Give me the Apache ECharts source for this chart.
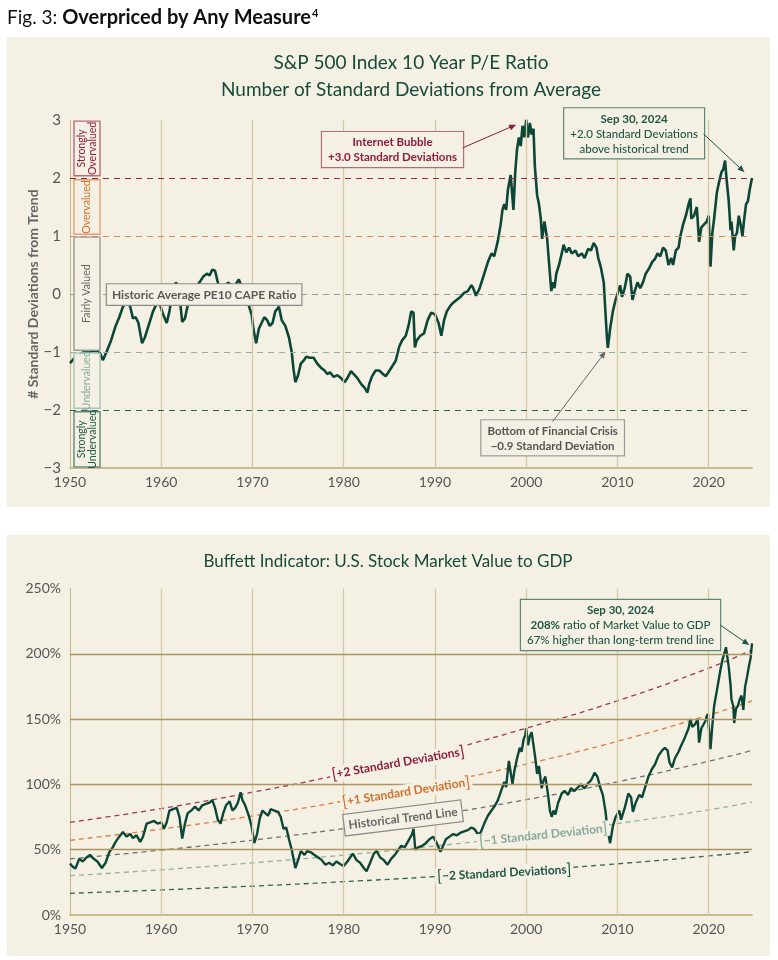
<!DOCTYPE html>
<html><head><meta charset="utf-8">
<script src="https://cdn.jsdelivr.net/npm/echarts/dist/echarts.min.js"></script>
<style>html,body{margin:0;padding:0;background:#fff}#c{width:778px;height:960px}</style>
</head><body><div id="c"></div>
<script>
// ---------- DATA ----------
const capeYears = [1950.0,1950.5,1951.0,1951.5,1952.0,1952.5,1953.0,1953.3,1953.6,1954.0,1954.5,1955.0,1955.4,1955.8,1956.0,1956.2,1956.4,1956.6,1956.9,1957.2,1957.5,1957.9,1958.2,1958.5,1958.8,1959.1,1959.4,1959.6,1959.9,1960.2,1960.6,1960.9,1961.2,1961.6,1961.9,1962.1,1962.3,1962.6,1962.9,1963.3,1963.7,1964.2,1964.6,1965.0,1965.3,1965.6,1965.9,1966.2,1966.4,1966.7,1967.0,1967.3,1967.7,1968.0,1968.5,1968.9,1969.3,1969.6,1969.9,1970.1,1970.4,1970.7,1971.0,1971.3,1971.6,1971.9,1972.2,1972.5,1972.9,1973.2,1973.6,1974.0,1974.3,1974.5,1974.7,1975.0,1975.3,1975.6,1975.9,1976.3,1976.7,1977.1,1977.5,1977.9,1978.2,1978.5,1978.9,1979.3,1979.7,1980.1,1980.4,1980.8,1981.1,1981.5,1981.9,1982.3,1982.6,1982.8,1983.1,1983.5,1983.9,1984.3,1984.6,1984.9,1985.3,1985.7,1986.1,1986.4,1986.8,1987.1,1987.4,1987.65,1987.8,1988.0,1988.4,1988.8,1989.2,1989.6,1990.0,1990.4,1990.7,1991.0,1991.3,1991.7,1992.0,1992.4,1992.8,1993.2,1993.6,1994.0,1994.2,1994.5,1994.9,1995.2,1995.5,1995.8,1996.2,1996.5,1996.9,1997.2,1997.4,1997.6,1997.8,1998.0,1998.3,1998.6,1998.8,1999.0,1999.2,1999.4,1999.6,1999.8,2000.0,2000.2,2000.4,2000.6,2000.8,2000.95,2001.2,2001.4,2001.6,2001.75,2002.0,2002.3,2002.5,2002.75,2002.9,2003.1,2003.3,2003.6,2003.9,2004.1,2004.4,2004.7,2005.0,2005.4,2005.7,2006.1,2006.4,2006.8,2007.1,2007.4,2007.7,2007.9,2008.2,2008.5,2008.7,2008.85,2008.95,2009.2,2009.5,2009.8,2010.1,2010.3,2010.5,2010.8,2011.1,2011.4,2011.65,2011.9,2012.2,2012.5,2012.8,2013.1,2013.5,2013.8,2014.1,2014.4,2014.7,2015.0,2015.3,2015.6,2015.9,2016.1,2016.4,2016.7,2016.9,2017.2,2017.5,2017.8,2018.0,2018.1,2018.4,2018.7,2018.95,2019.2,2019.5,2019.8,2020.0,2020.2,2020.4,2020.6,2020.9,2021.1,2021.4,2021.6,2021.8,2021.95,2022.2,2022.4,2022.5,2022.75,2022.9,2023.1,2023.3,2023.5,2023.7,2023.9,2024.1,2024.3,2024.5,2024.75];
const capeValues = [-1.19,-1.10,-1.05,-1.00,-1.00,-0.98,-1.00,-1.02,-1.14,-1.00,-0.80,-0.55,-0.40,-0.22,-0.17,-0.20,-0.15,-0.22,-0.42,-0.40,-0.50,-0.85,-0.75,-0.60,-0.45,-0.30,-0.20,-0.12,-0.20,-0.35,-0.50,-0.30,0.00,0.20,0.12,0.15,-0.48,-0.42,-0.20,-0.10,0.10,0.20,0.30,0.35,0.32,0.42,0.40,0.20,0.05,-0.20,0.05,0.20,0.15,0.12,0.25,0.10,-0.05,-0.20,-0.35,-0.60,-0.85,-0.60,-0.50,-0.40,-0.45,-0.55,-0.50,-0.30,-0.22,-0.45,-0.55,-0.75,-1.00,-1.30,-1.52,-1.40,-1.20,-1.15,-1.08,-1.10,-1.10,-1.20,-1.27,-1.32,-1.38,-1.35,-1.43,-1.40,-1.45,-1.52,-1.45,-1.33,-1.38,-1.45,-1.55,-1.62,-1.70,-1.55,-1.42,-1.32,-1.32,-1.38,-1.42,-1.35,-1.25,-1.15,-0.90,-0.80,-0.72,-0.55,-0.30,-0.32,-0.92,-0.80,-0.72,-0.68,-0.45,-0.32,-0.35,-0.50,-0.72,-0.45,-0.30,-0.20,-0.15,-0.10,-0.05,0.02,0.05,0.15,0.10,-0.03,0.10,0.25,0.40,0.55,0.70,0.65,0.92,1.20,1.45,1.55,1.45,1.80,2.05,1.45,2.10,2.50,2.70,2.55,2.90,2.70,3.00,2.70,2.95,2.75,2.85,2.20,1.70,1.55,1.30,0.95,1.25,0.95,0.55,0.05,0.20,0.10,0.35,0.50,0.70,0.85,0.72,0.80,0.70,0.75,0.65,0.70,0.62,0.78,0.75,0.88,0.80,0.62,0.45,0.20,-0.35,-0.75,-0.93,-0.60,-0.30,-0.10,0.05,0.15,-0.05,0.10,0.35,0.30,-0.10,0.05,0.20,0.10,0.20,0.35,0.45,0.55,0.60,0.70,0.65,0.80,0.75,0.50,0.62,0.50,0.75,0.80,1.00,1.20,1.35,1.55,1.65,1.30,1.35,1.50,0.90,1.15,1.20,1.25,1.35,0.47,1.05,1.30,1.75,1.90,2.10,2.15,2.30,2.00,1.60,1.10,1.25,0.75,1.00,1.05,1.35,1.20,1.00,1.30,1.55,1.60,1.80,2.00];

const buffettYears = [1950.0,1950.3,1950.6,1951.0,1951.4,1951.8,1952.2,1952.6,1953.0,1953.5,1953.9,1954.3,1954.7,1955.0,1955.4,1955.8,1956.2,1956.6,1956.9,1957.3,1957.7,1958.0,1958.4,1958.8,1959.2,1959.6,1960.0,1960.3,1960.6,1960.9,1961.3,1961.7,1962.0,1962.3,1962.6,1962.9,1963.3,1963.7,1964.1,1964.5,1964.9,1965.3,1965.6,1965.9,1966.2,1966.5,1966.8,1967.1,1967.5,1967.8,1968.1,1968.4,1968.7,1968.9,1969.2,1969.6,1969.9,1970.2,1970.5,1970.8,1971.1,1971.4,1971.7,1972.0,1972.4,1972.8,1973.1,1973.4,1973.7,1974.0,1974.3,1974.7,1975.0,1975.3,1975.7,1976.0,1976.4,1976.8,1977.2,1977.6,1978.0,1978.4,1978.8,1979.2,1979.6,1980.0,1980.4,1980.8,1981.0,1981.4,1981.8,1982.2,1982.5,1982.9,1983.3,1983.6,1984.0,1984.4,1984.8,1985.2,1985.6,1986.0,1986.3,1986.7,1987.1,1987.5,1987.65,1987.85,1988.2,1988.6,1989.0,1989.4,1989.8,1990.2,1990.6,1990.9,1991.2,1991.6,1992.0,1992.4,1992.8,1993.2,1993.6,1994.0,1994.3,1994.7,1995.0,1995.4,1995.8,1996.2,1996.6,1996.9,1997.3,1997.6,1997.8,1998.1,1998.3,1998.5,1998.7,1999.0,1999.3,1999.5,1999.7,1999.9,2000.0,2000.2,2000.4,2000.6,2000.8,2001.0,2001.2,2001.4,2001.7,2001.9,2002.1,2002.4,2002.6,2002.8,2003.0,2003.2,2003.5,2003.9,2004.2,2004.6,2004.9,2005.3,2005.7,2006.0,2006.4,2006.8,2007.1,2007.5,2007.8,2008.1,2008.4,2008.7,2008.9,2009.2,2009.5,2009.8,2010.2,2010.4,2010.8,2011.2,2011.5,2011.7,2012.0,2012.4,2012.7,2013.0,2013.4,2013.8,2014.1,2014.5,2014.9,2015.2,2015.5,2015.7,2016.0,2016.3,2016.7,2017.0,2017.4,2017.8,2018.0,2018.2,2018.5,2018.8,2018.95,2019.2,2019.6,2019.9,2020.05,2020.2,2020.4,2020.6,2020.9,2021.1,2021.3,2021.5,2021.7,2021.9,2022.0,2022.2,2022.4,2022.5,2022.7,2022.8,2023.0,2023.2,2023.4,2023.6,2023.8,2024.0,2024.2,2024.4,2024.6,2024.75];
const buffettValues = [39.5,37,35.5,43,41,44,46,43,41,36,40,48,52,56,60,63.5,60,62,59,61,56,60,70,71,72,70,71,66,71,80,81,82,75,58.5,70,78,80,83,80,84,85,86,88,82,73,70,78,84,87,80,82,86,94,88,84,76,68,55,62,74,80,78,76,81,80,79,75,66,67,58,50,36,42,49,46,49,48,46,44,42,38.5,40,38,41,39,37.5,41,45,47,42,40,36,33.5,40,47,49,44,42,38.5,43,46,50,53,52,57,62,66,50,52,53,55,58,60,55,48.5,53,58,60,62,61,63,64,65,67,66,62,63,70,76,80,84,88,96,102,98,118,118,100.5,110,120,128,125,134,138,143,130,137,140,130,120,108,114,97,103,106,92,80,75,80,77,86,93,95,92,97,95,98,100,97,101,103,109,106,98,92,79,66,55,68,75,80,73,82,93,90,79,86,92,90,97,106,112,115,122,126,128,126,117,113,120,125,130,136,143,150,144,146,150,132,143,148,154,155,127,145,160,172,180,188,195,200,205,200,190,176,165,160,147,158,160,165,168,157,175,182,190,197,208];

const trendYears  = [1950,1960,1970,1980,1990,2000,2010,2020,2024.75];
const trendPlus2  = [71,81.5,94,108,124,143,164,189,203];
const trendPlus1  = [57.2,65.8,75.8,87.2,100.4,115.6,133,153,164];
const trendMid    = [43,49.7,57.3,66.2,76.5,88.3,102,117.7,126];
const trendMinus1 = [30.1,34.6,39.9,45.9,52.8,60.8,70,80.5,86.5];
const trendMinus2 = [16.6,19.2,22.1,25.5,29.4,34,39.2,45.2,48.5];

const decadeLines = [1960,1970,1980,1990,2000,2010,2020];
const capeLevels = [2,1,0,-1,-2];
const buffettLevels = [50,100,150,200];

// ---------- STYLE ----------
const BG = '#f4f1e4';
const GREEN = '#0c4636';
const RED = '#8e1c3e';
const ORANGE = '#d36f2b';
const LTGREEN = '#86a99b';
const DKGREEN = '#1f5646';
const FONT = 'Lato';
const zip = (xs, ys) => xs.map((x, i) => [x, ys[i]]);

const levelColors = {'2': '#8f2a45', '1': '#d88a55', '0': '#9a9a9a', '-1': '#8fb0a2', '-2': '#2f6454'};

// ---------- ANNOTATIONS (data coordinates) ----------
const topNotes = [
  {kind:'band', x0:1950.44, x1:1953.29, y0:2.04, y1:2.98, stroke:'#b86a80', color:RED, text:'Strongly\nOvervalued'},
  {kind:'band', x0:1950.44, x1:1953.29, y0:1.03, y1:1.97, stroke:'#e2a070', color:ORANGE, text:'Overvalued'},
  {kind:'band', x0:1950.44, x1:1953.29, y0:-0.97, y1:0.98, stroke:'#9a9a9a', color:'#666', text:'Fairly Valued'},
  {kind:'band', x0:1950.44, x1:1953.29, y0:-1.97, y1:-1.02, stroke:'#a9c2b7', color:LTGREEN, text:'Undervalued'},
  {kind:'band', x0:1950.44, x1:1953.29, y0:-2.98, y1:-2.03, stroke:'#5d8a7b', color:DKGREEN, text:'Strongly\nUndervalued'},
  {kind:'text', at:[1964.7, -0.01], border:'#8a8a8a', color:'#5a5a5a',
   text:'{b|Historic Average PE10 CAPE Ratio}', size:12, pad:[3,5,2,5]},
  {kind:'text', at:[1985.35, 2.49], border:'#b46a7e', color:RED,
   text:'{b|Internet Bubble}\n{b|+3.0 Standard Deviations}', size:11.5, pad:[3,6,2,6]},
  {kind:'arrow', from:[1993.05, 2.52], to:[1998.9, 2.92], color:RED},
  {kind:'text', at:[2011.83, 2.77], border:'#5e8677', color:DKGREEN,
   text:'{b|Sep 30, 2024}\n{m|+2.0 Standard Deviations}\n{m|above historical trend}', size:11.5, pad:[3,6,2,6]},
  {kind:'arrow', from:[2019.44, 2.76], to:[2023.93, 2.1], color:DKGREEN},
  {kind:'text', at:[2002.9, -2.48], border:'#9a9a9a', color:'#555',
   text:'{b|Bottom of Financial Crisis}\n{b|−0.9 Standard Deviation}', size:11.5, pad:[3,6,2,6]},
  {kind:'arrow', from:[2002.9, -2.2], to:[2008.71, -0.99], color:'#666'}
];

const bottomNotes = [
  {kind:'text', at:[2010.34, 222], border:'#5e8677', color:DKGREEN,
   text:'{b|Sep 30, 2024}\n{b|208%}{m| ratio of Market Value to GDP}\n{m|67% higher than long-term trend line}', size:11.5, pad:[3,6,2,6]},
  {kind:'arrow', from:[2021.27, 222], to:[2024.45, 206.7], color:DKGREEN},
  {kind:'text', at:[1985.96, 116.4], rotate:10, color:RED,
   text:'{k|[}{b|+2 Standard Deviations}{k|]}', size:12, pad:[0,2,0,2]},
  {kind:'text', at:[1986.84, 94.2], rotate:9, color:ORANGE,
   text:'{k|[}{b|+1 Standard Deviation}{k|]}', size:12, pad:[0,2,0,2]},
  {kind:'text', at:[1986.5, 74.3], rotate:7, color:'#666', border:'#8a8a8a',
   text:'{b|Historical Trend Line}', size:12, pad:[3,4,2,4]},
  {kind:'text', at:[2001.86, 61.3], rotate:6, color:LTGREEN,
   text:'{k|[}{b|−1 Standard Deviation}{k|]}', size:12, pad:[0,2,0,2]},
  {kind:'text', at:[1997.6, 32.2], rotate:3, color:DKGREEN,
   text:'{k|[}{b|−2 Standard Deviations}{k|]}', size:12, pad:[0,2,0,2]}
];

function renderNotes(notes) {
  return function (params, api) {
    const n = notes[params.dataIndex];
    if (n.kind === 'band') {
      const a = api.coord([n.x0, n.y1]);
      const b = api.coord([n.x1, n.y0]);
      return {type:'group', children:[
        {type:'rect', shape:{x:a[0], y:a[1], width:b[0]-a[0], height:b[1]-a[1]},
         style:{fill:BG, stroke:n.stroke, lineWidth:1.4}},
        {type:'text', x:(a[0]+b[0])/2, y:(a[1]+b[1])/2, rotation:Math.PI/2,
         style:{text:n.text, fill:n.color, font:'10.5px ' + FONT, align:'center', verticalAlign:'middle', lineHeight:11}}
      ]};
    }
    if (n.kind === 'arrow') {
      const p0 = api.coord(n.from), p1 = api.coord(n.to);
      const ang = Math.atan2(p1[1]-p0[1], p1[0]-p0[0]);
      const L = 7, W = 3;
      const c = Math.cos(ang), s = Math.sin(ang);
      return {type:'group', children:[
        {type:'line', shape:{x1:p0[0], y1:p0[1], x2:p1[0]-c*4, y2:p1[1]-s*4}, style:{stroke:n.color, lineWidth:1}},
        {type:'polygon', shape:{points:[[p1[0],p1[1]],[p1[0]-L*c+W*s, p1[1]-L*s-W*c],[p1[0]-L*c-W*s, p1[1]-L*s+W*c]]}, style:{fill:n.color}}
      ]};
    }
    const p = api.coord(n.at);
    const st = {
      text:n.text, fill:n.color, align:'center', verticalAlign:'middle',
      backgroundColor:BG, padding:n.pad,
      rich:{
        b:{fill:n.color, fontFamily:FONT, fontWeight:'bold', fontSize:n.size, lineHeight:n.size+3.5},
        m:{fill:n.color, fontFamily:FONT, fontWeight:500, fontSize:n.size, lineHeight:n.size+3.5},
        k:{fill:n.color, fontFamily:FONT, fontWeight:'normal', fontSize:n.size+4, lineHeight:n.size+3.5}
      }
    };
    if (n.border) { st.borderColor = n.border; st.borderWidth = 1.2; }
    return {type:'text', x:p[0], y:p[1], rotation:(n.rotate||0)*Math.PI/180, style:st};
  };
}

const axisLabelStyle = {color:'#555', fontSize:14, fontFamily:FONT};
function xAxisFor(idx) {
  return {gridIndex:idx, type:'value', min:1950, max:2024.75, interval:10,
    axisLine:{show:true, onZero:false, lineStyle:{color:'#bca972', width:1.6}},
    axisTick:{show:false}, splitLine:{show:false},
    axisLabel:Object.assign({margin:7, formatter:v => (v % 10 === 0 ? String(v) : '')}, axisLabelStyle)};
}

const option = {
  animation:false,
  textStyle:{fontFamily:FONT},
  graphic:[
    {type:'rect', z:-10, silent:true, shape:{x:7, y:37, width:763, height:470}, style:{fill:BG}},
    {type:'rect', z:-10, silent:true, shape:{x:7, y:535, width:763, height:421}, style:{fill:BG}},
    {type:'text', x:7, y:18, style:{text:'{a|Fig. 3: }{b|Overpriced by Any Measure}{s|4}', verticalAlign:'middle',
      rich:{a:{fontFamily:FONT, fontSize:19, fill:'#111'}, b:{fontFamily:FONT, fontSize:20, fontWeight:'bold', fill:'#111'},
            s:{fontFamily:FONT, fontSize:11, fontWeight:'bold', fill:'#111', verticalAlign:'top', padding:[0,0,10,1]}}}},
    {type:'text', x:411, y:63, style:{text:'S&P 500 Index 10 Year P/E Ratio', font:'19px ' + FONT, fill:'#174a3b', align:'center', verticalAlign:'middle'}},
    {type:'text', x:411, y:90, style:{text:'Number of Standard Deviations from Average', font:'19px ' + FONT, fill:'#174a3b', align:'center', verticalAlign:'middle'}},
    {type:'text', x:388, y:562, style:{text:'Buffett Indicator: U.S. Stock Market Value to GDP', font:'17px ' + FONT, fill:'#174a3b', align:'center', verticalAlign:'middle'}}
  ],
  grid:[
    {left:70, right:26, top:120, height:348},
    {left:70, right:26, top:588.5, height:326.5}
  ],
  xAxis:[xAxisFor(0), xAxisFor(1)],
  yAxis:[
    {gridIndex:0, type:'value', min:-3, max:3, interval:1,
     axisLine:{show:true, lineStyle:{color:'#cbbb8f', width:1.2}}, axisTick:{show:false}, splitLine:{show:false},
     axisLabel:{margin:9, fontSize:15, color:'#555', fontFamily:FONT, formatter:v => (v < 0 ? '−' + Math.abs(v) : String(v))},
     name:'# Standard Deviations from Trend', nameLocation:'middle', nameGap:30, nameRotate:90, nameMoveOverlap:false,
     nameTextStyle:{fontFamily:FONT, fontWeight:'bold', fontSize:14, color:'#666'}},
    {gridIndex:1, type:'value', min:0, max:250, interval:50,
     axisLine:{show:true, lineStyle:{color:'#cbbb8f', width:1.2}}, axisTick:{show:false}, splitLine:{show:false},
     axisLabel:Object.assign({margin:9, formatter:'{value}%'}, axisLabelStyle)}
  ],
  series:[
    {type:'line', xAxisIndex:0, yAxisIndex:0, data:[], z:1, silent:true,
     markLine:{silent:true, symbol:'none', label:{show:false}, animation:false,
       data:[].concat(
         decadeLines.map(y => ({xAxis:y, lineStyle:{color:'#d8c9a2', width:1.3, type:'solid'}})),
         capeLevels.map(l => ({yAxis:l, lineStyle:{color:levelColors[String(l)], width:1.2, type:[6,5]}}))
       )}},
    {type:'line', name:'CAPE', xAxisIndex:0, yAxisIndex:0, data:zip(capeYears, capeValues), z:3,
     showSymbol:false, symbol:'none', lineStyle:{color:GREEN, width:2.6}},
    {type:'custom', xAxisIndex:0, yAxisIndex:0, z:10, clip:false, silent:true,
     data:topNotes.map(() => [1990, 0]), renderItem:renderNotes(topNotes)},

    {type:'line', xAxisIndex:1, yAxisIndex:1, data:[], z:1, silent:true,
     markLine:{silent:true, symbol:'none', label:{show:false}, animation:false,
       data:[].concat(
         decadeLines.map(y => ({xAxis:y, lineStyle:{color:'#d8c9a2', width:1.3, type:'solid'}})),
         buffettLevels.map(l => ({yAxis:l, lineStyle:{color:'#ab945f', width:1.4, type:'solid'}}))
       )}},
    {type:'line', xAxisIndex:1, yAxisIndex:1, data:zip(trendYears, trendPlus2), smooth:true, z:2, symbol:'none', lineStyle:{color:'#a53552', width:1.3, type:[5,4]}},
    {type:'line', xAxisIndex:1, yAxisIndex:1, data:zip(trendYears, trendPlus1), smooth:true, z:2, symbol:'none', lineStyle:{color:'#dc7c3e', width:1.3, type:[5,4]}},
    {type:'line', xAxisIndex:1, yAxisIndex:1, data:zip(trendYears, trendMid), smooth:true, z:2, symbol:'none', lineStyle:{color:'#727272', width:1.3, type:[5,4]}},
    {type:'line', xAxisIndex:1, yAxisIndex:1, data:zip(trendYears, trendMinus1), smooth:true, z:2, symbol:'none', lineStyle:{color:'#8fb0a2', width:1.3, type:[5,4]}},
    {type:'line', xAxisIndex:1, yAxisIndex:1, data:zip(trendYears, trendMinus2), smooth:true, z:2, symbol:'none', lineStyle:{color:'#2f6454', width:1.3, type:[5,4]}},
    {type:'line', name:'Buffett', xAxisIndex:1, yAxisIndex:1, data:zip(buffettYears, buffettValues), z:3,
     showSymbol:false, symbol:'none', lineStyle:{color:GREEN, width:2.4}},
    {type:'custom', xAxisIndex:1, yAxisIndex:1, z:10, clip:false, silent:true,
     data:bottomNotes.map(() => [1990, 100]), renderItem:renderNotes(bottomNotes)}
  ]
};

const chart = echarts.init(document.getElementById('c'), null, {renderer:'canvas'});
chart.setOption(option);
</script></body></html>
